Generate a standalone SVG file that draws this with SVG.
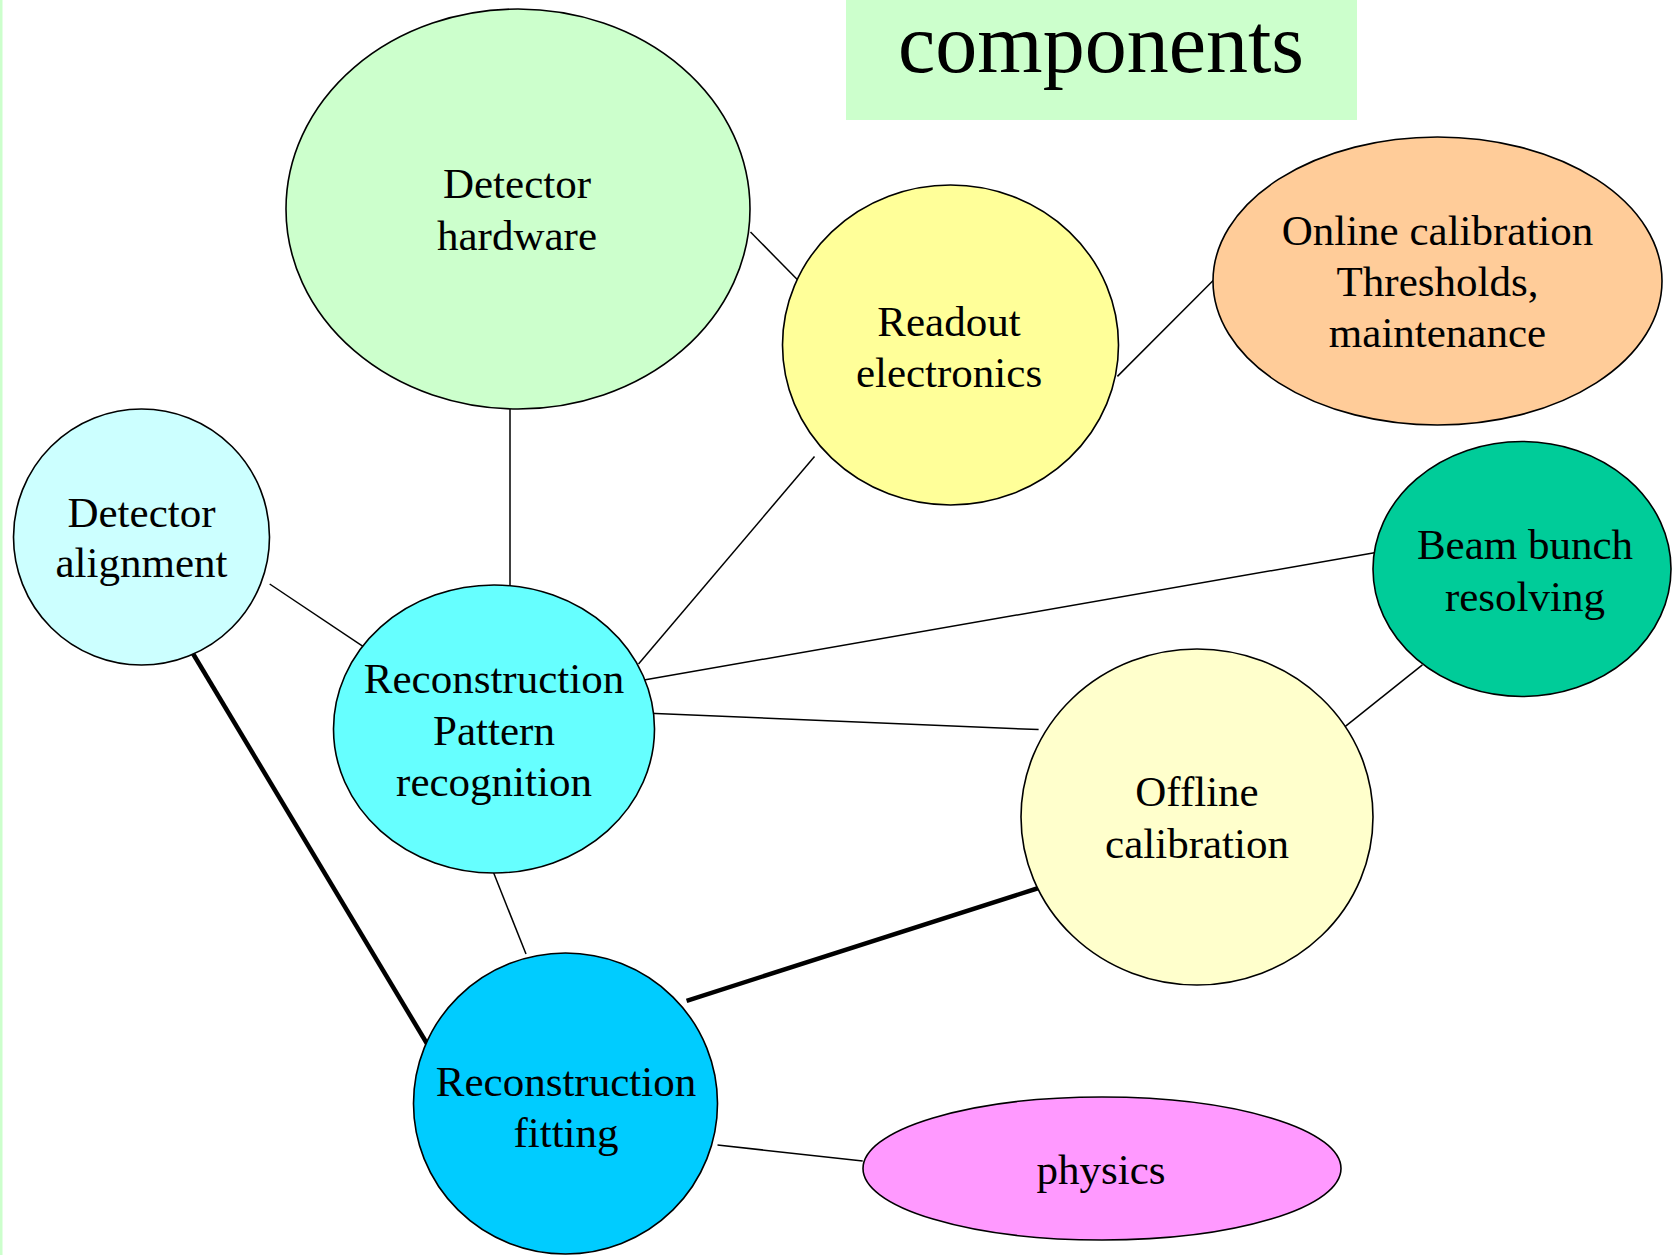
<svg xmlns="http://www.w3.org/2000/svg" width="1672" height="1255" viewBox="0 0 1672 1255">
<style>
.node ellipse{stroke:#000;stroke-width:1.6}
.lbl{font-family:"Liberation Serif","Times New Roman",serif;font-size:43px;fill:#000;text-anchor:middle}
.title{font-family:"Liberation Serif","Times New Roman",serif;font-size:84px;fill:#000;text-anchor:middle}
#connectors line{stroke:#000;stroke-width:1.5}
#connectors line.thick{stroke-width:4.5}
</style>
<rect x="0" y="0" width="1672" height="1255" fill="#fff"/>
<rect x="0" y="0" width="2.5" height="1255" fill="#ccffcc"/>
<g id="title">
<rect x="846" y="0" width="511" height="120" fill="#ccffcc"/>
<text class="title" x="1101" y="72">components</text>
</g>
<g id="connectors">
<line x1="750.5" y1="232" x2="798" y2="280.3"/>
<line x1="510" y1="409" x2="510" y2="585"/>
<line x1="814.5" y1="456.5" x2="638.5" y2="664"/>
<line x1="1117.4" y1="376.4" x2="1213.4" y2="280.3"/>
<line x1="269.7" y1="584" x2="366.7" y2="648.8"/>
<line x1="1374.4" y1="552.7" x2="644" y2="680"/>
<line x1="637.5" y1="712.8" x2="1038.6" y2="729.6"/>
<line x1="1341.3" y1="729.6" x2="1422.4" y2="664.8"/>
<line x1="493.6" y1="872.8" x2="526" y2="954"/>
<line class="thick" x1="190.8" y1="650" x2="429.6" y2="1048"/>
<line class="thick" x1="686.6" y1="1000.8" x2="1038.6" y2="888"/>
<line x1="717.5" y1="1145" x2="862.7" y2="1161"/>
</g>
<g id="detector-hardware" class="node">
<ellipse cx="518" cy="209" rx="232" ry="200" fill="#ccffcc"/>
<text class="lbl" x="517" y="198">Detector<tspan x="517" y="250">hardware</tspan></text>
</g>
<g id="readout-electronics" class="node">
<ellipse cx="950.5" cy="345" rx="168" ry="160" fill="#ffff99"/>
<text class="lbl" x="949" y="336">Readout<tspan x="949" y="387">electronics</tspan></text>
</g>
<g id="online-calibration" class="node">
<ellipse cx="1437.5" cy="281" rx="224.5" ry="144" fill="#ffcc99"/>
<text class="lbl" x="1437.5" y="245">Online calibration<tspan x="1437.5" y="296">Thresholds,</tspan><tspan x="1437.5" y="347">maintenance</tspan></text>
</g>
<g id="beam-bunch" class="node">
<ellipse cx="1522" cy="569" rx="149" ry="127.5" fill="#00cc99"/>
<text class="lbl" x="1525" y="559">Beam bunch<tspan x="1525" y="610.5">resolving</tspan></text>
</g>
<g id="detector-alignment" class="node">
<ellipse cx="141.5" cy="537" rx="128" ry="128" fill="#ccffff"/>
<text class="lbl" x="141.5" y="526.5">Detector<tspan x="141.5" y="576.7">alignment</tspan></text>
</g>
<g id="reco-pattern" class="node">
<ellipse cx="494" cy="729" rx="160.5" ry="144" fill="#66ffff"/>
<text class="lbl" x="494" y="693.3">Reconstruction<tspan x="494" y="744.5">Pattern</tspan><tspan x="494" y="796">recognition</tspan></text>
</g>
<g id="offline-calibration" class="node">
<ellipse cx="1197" cy="817" rx="176" ry="168" fill="#ffffcc"/>
<text class="lbl" x="1197" y="806">Offline<tspan x="1197" y="858">calibration</tspan></text>
</g>
<g id="reco-fitting" class="node">
<ellipse cx="565.5" cy="1103.5" rx="152" ry="150.5" fill="#00ccff"/>
<text class="lbl" x="566" y="1096">Reconstruction<tspan x="566" y="1147">fitting</tspan></text>
</g>
<g id="physics" class="node">
<ellipse cx="1102" cy="1168.5" rx="239" ry="71.5" fill="#ff99ff"/>
<text class="lbl" x="1101" y="1184">physics</text>
</g>
</svg>
